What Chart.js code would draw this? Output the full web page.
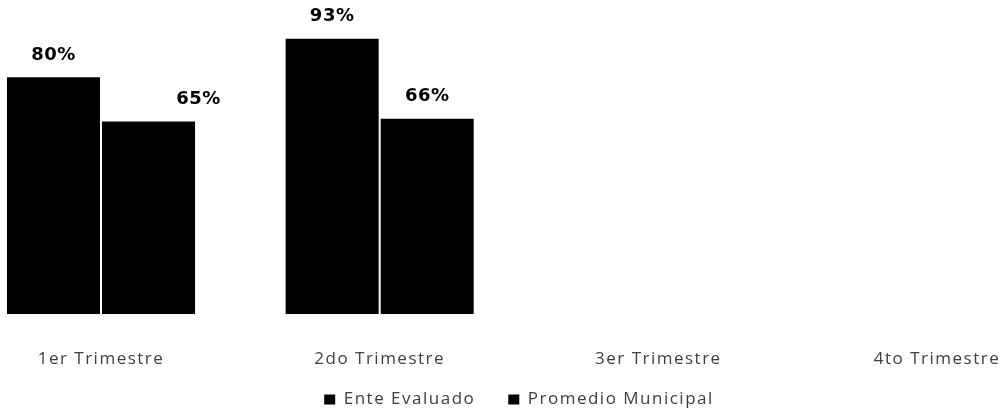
<!DOCTYPE html>
<html>
<head>
<meta charset="utf-8">
<script src="https://cdn.jsdelivr.net/npm/chart.js@4/dist/chart.umd.min.js"></script>
<style>
  html, body { margin: 0; padding: 0; background: #fff; overflow: hidden; }
  #wrap { width: 1003px; height: 413px; position: relative; }
</style>
</head>
<body>
<div id="wrap"><canvas id="c"></canvas></div>
<script>
const categories = ['1er Trimestre', '2do Trimestre', '3er Trimestre', '4to Trimestre'];
const enteEvaluado = [80, 93, null, null];
const promedioMunicipal = [65, 66, null, null];
const seriesNames = ['Ente Evaluado', 'Promedio Municipal'];

const spacingPlugin = {
  id: 'spacing',
  beforeUpdate(chart) { chart.ctx.letterSpacing = '1.5px'; },
  beforeLayout(chart) { chart.ctx.letterSpacing = '1.5px'; },
  afterLayout(chart) {
    // let the category labels extend below the axis box (no clipping)
    chart.scales.x.bottom = chart.height;
  },
  beforeDraw(chart) { chart.ctx.letterSpacing = '1.5px'; }
};

const valueLabels = {
  id: 'valueLabels',
  afterDatasetsDraw(chart, args, opts) {
    const ctx = chart.ctx;
    ctx.save();
    ctx.letterSpacing = '0.5px';
    ctx.font = 'bold 18px "DejaVu Sans"';
    ctx.fillStyle = '#000';
    ctx.textAlign = 'center';
    ctx.textBaseline = 'middle';
    chart.data.datasets.forEach((ds, di) => {
      const meta = chart.getDatasetMeta(di);
      meta.data.forEach((el, i) => {
        const v = ds.data[i];
        if (v === null || v === undefined) return;
        const dx = (opts.shift[di] && opts.shift[di][i]) || 0;
        ctx.fillText(v + '%', el.x + dx, el.y - 22);
      });
    });
    ctx.restore();
  }
};

new Chart(document.getElementById('c'), {
  type: 'bar',
  data: {
    labels: categories,
    datasets: [
      { label: seriesNames[0], data: enteEvaluado, backgroundColor: '#000', clip: false },
      { label: seriesNames[1], data: promedioMunicipal, backgroundColor: '#000', clip: false }
    ]
  },
  options: {
    responsive: true,
    maintainAspectRatio: false,
    animation: false,
    categoryPercentage: 0.682,
    barPercentage: 0.979,
    layout: { padding: { left: 101, right: 66, top: 18, bottom: -5 } },
    scales: {
      x: {
        offset: false,
        grid: { display: false },
        border: { display: false },
        ticks: {
          color: '#404040',
          padding: 27,
          maxRotation: 0,
          autoSkip: false,
          font: { family: '"Open Sans"', size: 17 }
        },
        afterFit(scale) {
          scale.paddingLeft = 0;
          scale.paddingRight = 0;
          scale.height = 44;
        }
      },
      y: { display: false, min: 0, max: 100 }
    },
    plugins: {
      legend: {
        position: 'bottom',
        labels: {
          color: '#404040',
          boxWidth: 11,
          boxHeight: 10,
          padding: 33,
          font: { family: '"Open Sans"', size: 17 }
        }
      },
      tooltip: { enabled: false },
      valueLabels: { shift: [[0, 0], [50, 0]] }
    }
  },
  plugins: [spacingPlugin, valueLabels]
});
</script>
</body>
</html>
